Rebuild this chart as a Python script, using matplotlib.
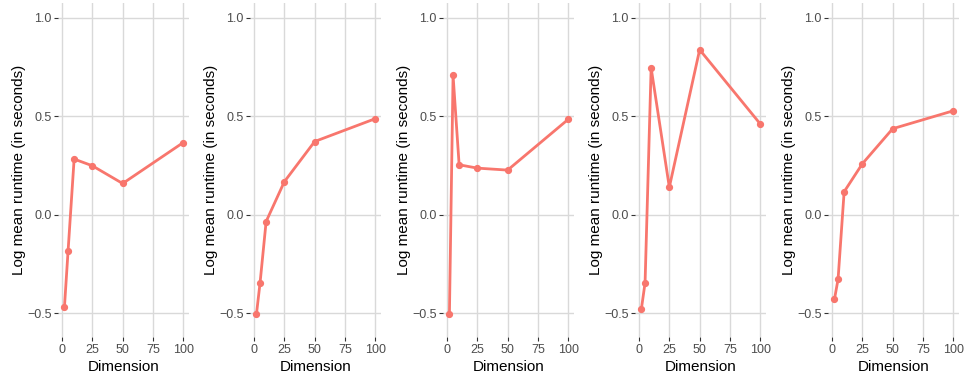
import matplotlib
matplotlib.use("Agg")
import matplotlib.pyplot as plt

plt.rcParams['font.family'] = ['Liberation Sans', 'DejaVu Sans']

# dimensions tested, shared by every panel
dimension = [2, 5, 10, 25, 50, 100]

# log mean runtime for each of the five runs
runtime_1 = [-0.469, -0.184, 0.283, 0.249, 0.159, 0.367]
runtime_2 = [-0.505, -0.345, -0.034, 0.168, 0.372, 0.488]
runtime_3 = [-0.502, 0.708, 0.254, 0.237, 0.227, 0.485]
runtime_4 = [-0.476, -0.345, 0.746, 0.140, 0.838, 0.461]
runtime_5 = [-0.429, -0.327, 0.117, 0.259, 0.437, 0.528]

x_ticks = [0, 25, 50, 75, 100]
y_ticks = [-0.5, 0.0, 0.5, 1.0]
y_tick_labels = ["\u22120.5", "0.0", "0.5", "1.0"]

W, H = 964, 378
fig = plt.figure(figsize=(W / 100, H / 100), dpi=100)

line_col = "#F8766D"
grid_col = "#D9D9D9"
# x position (pixels) of the x=0 gridline in each panel
zero_px = [62, 254, 447, 639, 832]
px_per_unit = 1.213
top_px, bottom_px = 3, 337

all_runs = [runtime_1, runtime_2, runtime_3, runtime_4, runtime_5]
for x0, vals in zip(zero_px, all_runs):
    left = x0 - 2.9 * px_per_unit
    width = 107.8 * px_per_unit
    ax = fig.add_axes([left / W, 1 - bottom_px / H, width / W, (bottom_px - top_px) / H])
    ax.set_xlim(-2.9, 104.9)
    ax.set_ylim(-0.62, 1.075)
    ax.set_xticks(x_ticks)
    ax.set_yticks(y_ticks)
    ax.set_yticklabels(y_tick_labels)
    ax.grid(True, color=grid_col, linewidth=1.0)
    ax.set_axisbelow(True)
    for s in ax.spines.values():
        s.set_visible(False)
    ax.tick_params(colors="#333333", labelcolor="#4D4D4D", labelsize=9,
                   length=3, width=0.8, pad=2)
    ax.plot(dimension, vals, color=line_col, linewidth=2.0, marker="o",
            markersize=4.2, solid_capstyle="round")
    ax.set_xlabel("Dimension", fontsize=11, color="black", labelpad=3)
    ax.set_ylabel("Log mean runtime (in seconds)", fontsize=11, color="black", labelpad=0.5)

fig.savefig("out.png", dpi=100, facecolor="white")
